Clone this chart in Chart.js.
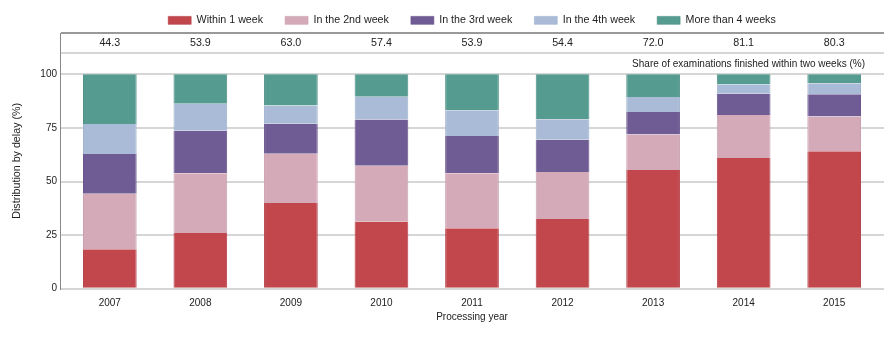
<!DOCTYPE html>
<html>
<head>
<meta charset="utf-8">
<script src="https://cdn.jsdelivr.net/npm/chart.js@4"></script>
<style>
  body { margin: 0; background: #fff; }
  #wrap { width: 893px; height: 340px; }
</style>
</head>
<body>
<div id="wrap"><canvas id="chart" width="893" height="340"></canvas></div>
<script>
const years    = ['2007', '2008', '2009', '2010', '2011', '2012', '2013', '2014', '2015'];
const within1  = [18.4, 26.0, 40.0, 31.3, 28.2, 32.5, 55.4, 61.0, 64.1];
const week2    = [25.9, 27.9, 23.0, 26.1, 25.7, 21.9, 16.6, 20.1, 16.2];
const week3    = [18.5, 19.8, 14.0, 21.6, 17.3, 15.1, 10.4,  9.9, 10.4];
const week4    = [14.0, 12.6,  8.5, 10.6, 12.1,  9.6,  7.0,  4.3,  5.2];
const over4    = [23.2, 13.7, 14.5, 10.4, 16.7, 20.9, 10.6,  4.7,  4.1];
const shareTwo = ['44.3', '53.9', '63.0', '57.4', '53.9', '54.4', '72.0', '81.1', '80.3'];
const yTicks   = [0, 25, 50, 75, 100];

const shareNote = 'Share of examinations finished within two weeks (%)';

// the value axis is stretched above 100 so the row of shares sits inside the plot
const yMax = 119.3;
const rowLine = 109.9;

const family = "'Liberation Sans', Arial, sans-serif";
const font = { family: family, size: 10.7 };
const small = { family: family, size: 10 };
const ink = '#222';

function series(label, data, fill, edge) {
    return {
        label: label,
        data: data,
        backgroundColor: fill,
        borderColor: edge,
        borderWidth: { left: 1, right: 1, top: 0, bottom: 0 },
        borderSkipped: false,
        barPercentage: 0.593,
        categoryPercentage: 1
    };
}

const shareRow = {
    id: 'shareRow',
    beforeInit(chart) {
        const fit = chart.legend.fit;
        chart.legend.fit = function () {
            fit.call(this);
            this.height = 40;
        };
    },
    afterDraw(chart) {
        const c = chart.ctx;
        const xs = chart.scales.x;
        const ys = chart.scales.y;
        c.save();
        c.fillStyle = ink;
        c.textBaseline = 'middle';
        c.textAlign = 'center';
        c.font = `${font.size}px ${family}`;
        const rowY = ys.getPixelForValue((yMax + rowLine) / 2);
        years.forEach((yr, i) => {
            c.fillText(shareTwo[i], xs.getPixelForValue(+yr), rowY);
        });
        c.textAlign = 'right';
        c.font = `${small.size}px ${family}`;
        c.fillText(shareNote, xs.right - 19, ys.getPixelForValue(rowLine) + 11);
        c.restore();
    }
};

new Chart(document.getElementById('chart'), {
    type: 'bar',
    data: {
        labels: years,
        datasets: [
            series('Within 1 week',     within1, '#c1474d', '#b23c43'),
            series('In the 2nd week',   week2,   '#d4a9b8', '#c99dad'),
            series('In the 3rd week',   week3,   '#705c94', '#624f88'),
            series('In the 4th week',   week4,   '#a9bbd6', '#9eb0cc'),
            series('More than 4 weeks', over4,   '#559b90', '#4a8e83')
        ]
    },
    options: {
        responsive: false,
        animation: false,
        layout: { padding: { left: 0, right: 9, top: -7, bottom: 0 } },
        plugins: {
            legend: {
                position: 'top',
                fullSize: false,
                labels: {
                    boxWidth: 23,
                    boxHeight: 8,
                    padding: 22,
                    color: ink,
                    font: font
                }
            },
            tooltip: { enabled: false }
        },
        scales: {
            x: {
                type: 'linear',
                stacked: true,
                offset: false,
                min: 2006.45,
                max: 2015.55,
                afterBuildTicks: (s) => { s.ticks = years.map(v => ({ value: +v })); },
                afterFit: (s) => { s.height = 51.3; },
                grid: { display: false, offset: false },
                border: { display: false },
                ticks: {
                    color: ink,
                    font: small,
                    padding: 1,
                    maxRotation: 0,
                    callback: (v) => String(v)
                },
                title: {
                    display: true,
                    text: 'Processing year',
                    color: ink,
                    font: small,
                    padding: { top: 0, bottom: 17 }
                }
            },
            y: {
                stacked: true,
                min: 0,
                max: yMax,
                afterBuildTicks: (s) => {
                    s.ticks = yTicks.concat([rowLine, yMax]).map(v => ({ value: v }));
                },
                afterFit: (s) => { s.width = 60; },
                grid: {
                    drawTicks: false,
                    color: (ctx) => ctx.tick && ctx.tick.value === yMax ? '#999' : '#d6d6d6',
                    lineWidth: 2
                },
                border: { display: true, color: '#888', width: 1 },
                ticks: {
                    color: ink,
                    font: small,
                    padding: 3,
                    callback: (v) => v <= 100 ? v : ''
                },
                title: {
                    display: true,
                    text: 'Distribution by delay (%)',
                    color: ink,
                    font: font,
                    padding: { top: 11, bottom: 0 }
                }
            }
        }
    },
    plugins: [shareRow]
});
</script>
</body>
</html>
